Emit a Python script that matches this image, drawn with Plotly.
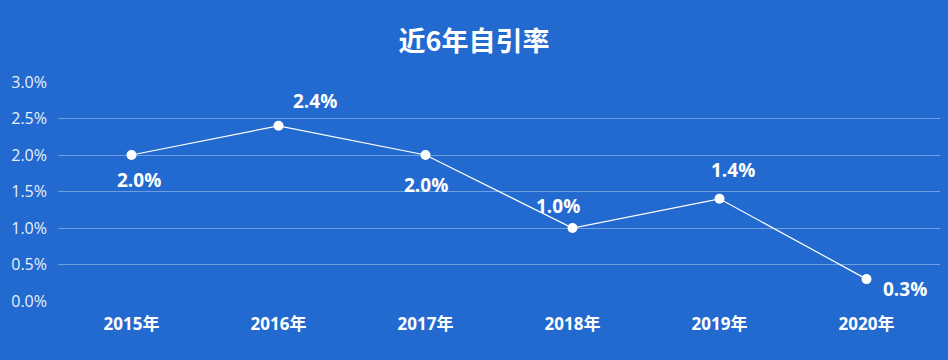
import plotly.graph_objects as go

years = ["2015年", "2016年", "2017年", "2018年", "2019年", "2020年"]
rates = [2.0, 2.4, 2.0, 1.0, 1.4, 0.3]
y_ticks = [0, 0.5, 1.0, 1.5, 2.0, 2.5, 3.0]
y_tick_labels = ["0.0%", "0.5%", "1.0%", "1.5%", "2.0%", "2.5%", "3.0%"]
label_offsets = [(7, -25), (36, 25), (0, -30), (-15, 22), (13, 29), (38, -10)]

BG = "#236ad0"
FONT = "Open Sans, Noto Sans CJK SC, sans-serif"

fig = go.Figure()
fig.add_trace(go.Scatter(
    x=years, y=rates, mode="lines+markers",
    line=dict(color="white", width=1.2),
    marker=dict(color="white", size=10),
    hoverinfo="skip", showlegend=False,
))

for xv, yv, (dx, dy) in zip(years, rates, label_offsets):
    fig.add_annotation(
        x=xv, y=yv, text=f"{yv:.1f}%", showarrow=False,
        xshift=dx, yshift=dy,
        font=dict(family=FONT, size=19, color="white", weight="bold"),
    )

fig.update_layout(
    width=948, height=360,
    paper_bgcolor=BG, plot_bgcolor=BG,
    margin=dict(l=58, r=8, t=82, b=59),
    title=dict(text="<b>近6年自引率</b>", x=0.5, xanchor="center", y=0.885, yanchor="middle",
               font=dict(family="Noto Sans CJK SC, sans-serif", size=27, color="white")),
    xaxis=dict(
        type="category", range=[-0.5, 5.5], showgrid=False, zeroline=False,
        showline=False, ticks="",
        tickfont=dict(family=FONT, size=17, color="white", weight="bold"),
        ticklabelstandoff=11,
        fixedrange=True,
    ),
    yaxis=dict(
        range=[0, 3.0], tickvals=y_ticks, ticktext=y_tick_labels,
        showgrid=True, gridcolor="rgba(255,255,255,0.35)", gridwidth=1,
        zeroline=False, showline=False, ticks="",
        tickfont=dict(family=FONT, size=16, color="rgba(255,255,255,0.92)"),
        ticklabelstandoff=10,
        fixedrange=True,
    ),
)

fig.write_html("out.html", config={"displayModeBar": False},
               post_script="document.body.style.margin='0';document.body.style.overflow='hidden';")
